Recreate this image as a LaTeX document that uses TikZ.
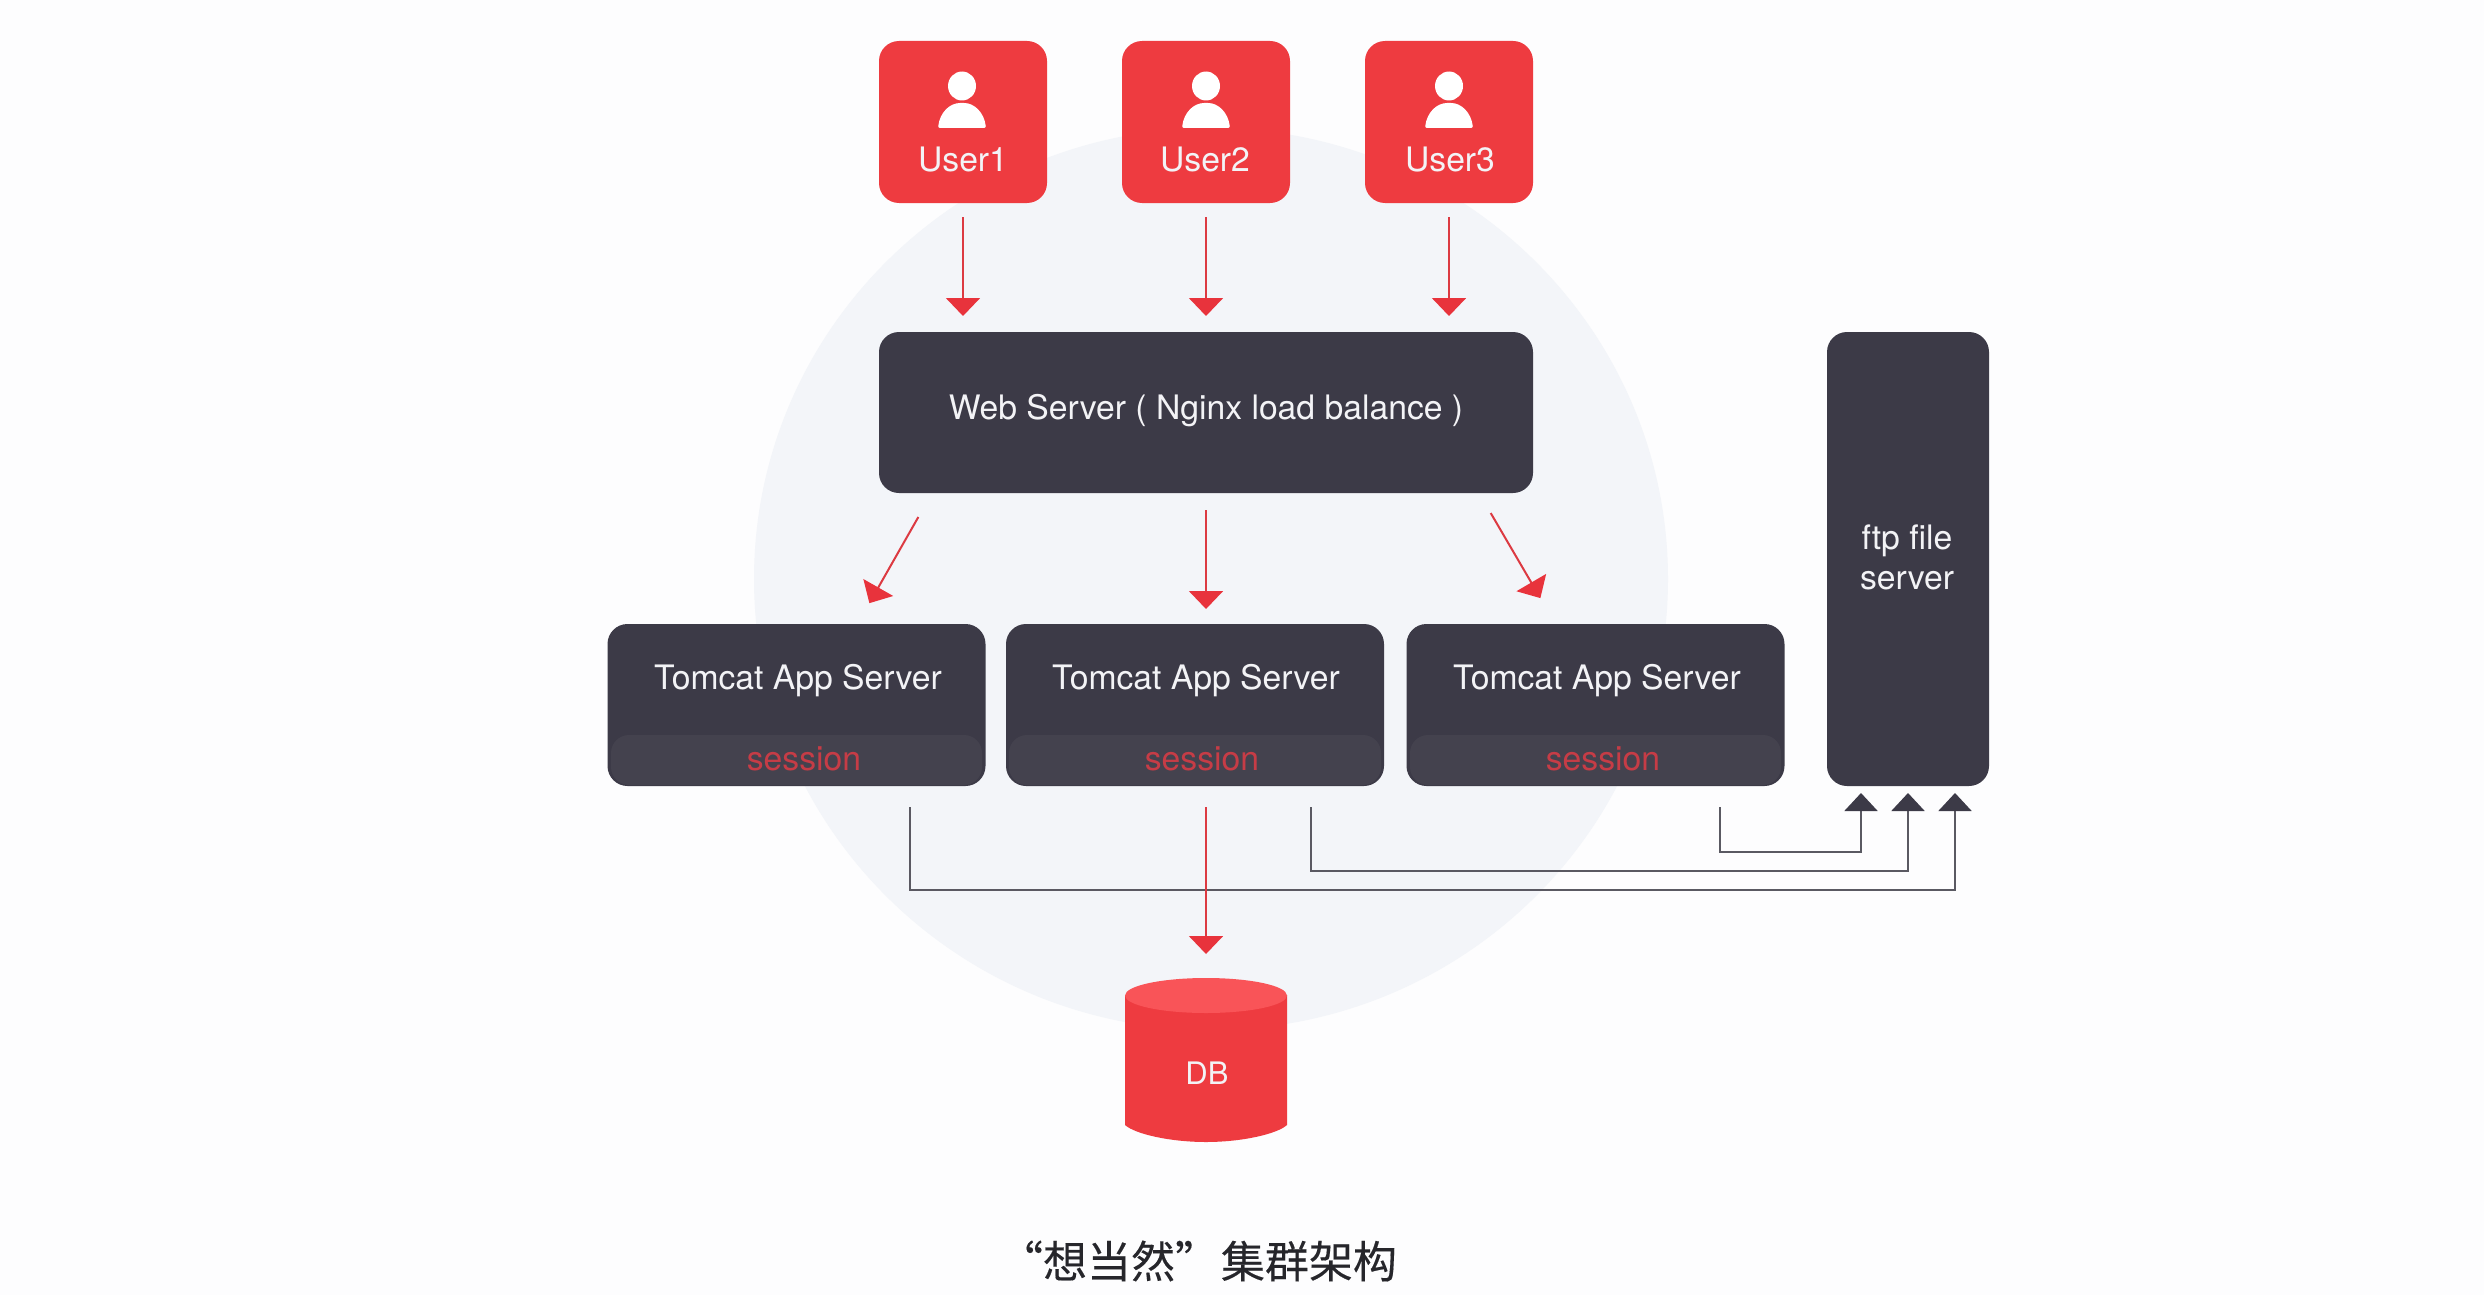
\documentclass[tikz,border=0pt]{standalone}
\usepackage{fontspec}
\setmainfont{TeX Gyre Heros}
\newfontfamily\cjkfont[FakeBold=0.25]{Noto Sans CJK SC}
\usetikzlibrary{arrows.meta,calc}
\definecolor{pagebg}{HTML}{FDFDFE}
\definecolor{halo}{HTML}{F3F5F9}
\definecolor{redbox}{HTML}{EE3B40}
\definecolor{redtop}{HTML}{F95458}
\definecolor{redline}{HTML}{DC3A42}
\definecolor{redtip}{HTML}{E8333C}
\definecolor{darkbox}{HTML}{3C3A47}
\definecolor{darkband}{HTML}{44424E}
\definecolor{greyline}{HTML}{5A5962}
\definecolor{sessred}{HTML}{C63C46}
\definecolor{lighttext}{HTML}{F3F3F6}
\definecolor{captext}{HTML}{26262B}
\tikzset{
  anybox/.style={rectangle,rounded corners=10pt,inner sep=0pt,outer sep=0pt},
  userbox/.style={anybox,fill=redbox,minimum width=84pt,minimum height=81pt},
  webbox/.style={anybox,fill=darkbox,minimum width=327pt,minimum height=80.5pt},
  appbox/.style={anybox,fill=darkbox,minimum width=189pt,minimum height=81pt},
  ftpbox/.style={anybox,fill=darkbox,minimum width=81pt,minimum height=227pt},
  label/.style={inner sep=0pt,outer sep=0pt,text=lighttext,font=\fontsize{16.85}{20}\selectfont,align=center},
  sesslabel/.style={label,text=sessred},
  redflow/.style={draw=redline,line width=1pt,-{Triangle[length=9pt,width=17pt,fill=redtip,color=redtip]}},
  greyflow/.style={draw=greyline,line width=1pt,-{Triangle[length=9pt,width=16.5pt,fill=darkbox,color=darkbox]}},
  dbshape/.style={rectangle,inner sep=0pt,outer sep=0pt,minimum width=81pt,minimum height=82pt},
}
\newcommand{\personicon}[1]{%
  \fill[white] (#1,86) ellipse [x radius=14,y radius=14.5];
  \fill[white,rounded corners=1pt] (#1-24,128) .. controls (#1-22,112) and (#1-12,103) .. (#1,103) .. controls (#1+12,103) and (#1+22,112) .. (#1+24,128) -- cycle;
}
\begin{document}
\begin{tikzpicture}[x=0.5pt,y=-0.5pt]
\useasboundingbox (0,0) rectangle (2484,1295);
\fill[pagebg] (0,0) rectangle (2484,1295);
\fill[halo] (1211,579) ellipse [x radius=457,y radius=451];

% users
\node[userbox] (u1) at (963,122) {};
\node[userbox] (u2) at (1206,122) {};
\node[userbox] (u3) at (1449,122) {};
\personicon{962}\personicon{1206}\personicon{1449}
\node[label] (u1t) at (963,159.5) {User1};
\node[label] (u2t) at (1205,159.5) {User2};
\node[label] (u3t) at (1450,159.5) {User3};

% web
\node[webbox] (web) at (1206,412.5) {};
\node[label] (webt) at (1206,411) {Web Server ( Nginx load balance )};

% tomcat
\node[appbox] (t1) at (796.5,705) {};
\node[appbox] (t2) at (1195,705) {};
\node[appbox] (t3) at (1595.5,705) {};
\fill[darkband,rounded corners=9pt] (611,735) rectangle (982,785);
\fill[darkband,rounded corners=9pt] (1009,735) rectangle (1381,785);
\fill[darkband,rounded corners=9pt] (1410,735) rectangle (1781,785);
\node[label] (t1t) at (798,681) {Tomcat App Server};
\node[label] (t2t) at (1196,681) {Tomcat App Server};
\node[label] (t3t) at (1597,681) {Tomcat App Server};
\node[sesslabel] (s1) at (804,758.5) {session};
\node[sesslabel] (s2) at (1202,758.5) {session};
\node[sesslabel] (s3) at (1603,758.5) {session};

% ftp
\node[ftpbox] (ftp) at (1908,559) {};
\node[label] (ftpt) at (1907,557.5) {ftp file\\server};

% db
\node[dbshape] (db) at (1206,1060) {};
\fill[redbox] (1125,995) -- (1125,1125) .. controls (1135,1134) and (1170,1142) .. (1206,1142) .. controls (1242,1142) and (1277,1134) .. (1287,1125) -- (1287,995) -- cycle;
\fill[redtop] (1206,995.5) ellipse [x radius=81,y radius=17.5];
\node[label,font=\fontsize{15.5}{19}\selectfont] (dbt) at (1207,1073) {DB};

% caption
\node[inner sep=0pt,outer sep=0pt,text=captext,font=\cjkfont\fontsize{22}{26}\selectfont] (cap) at (1198,1261) {“想当然”\hspace{-4pt} 集群架构};

% users to web
\foreach \a in {u1,u2,u3}
  \draw[redflow,shorten <=7pt,shorten >=8pt] (\a.south) -- (\a.south |- web.north);

% web to tomcat
\draw[redflow,shorten <=13.8pt,shorten >=12pt] ($(web.south west)+(53,0)$) -- ($(t1.north west)+(250,0)$);
\draw[redflow,shorten <=8.5pt,shorten >=7.5pt] (web.south) -- (web.south |- t2.north);
\draw[redflow,shorten <=11.6pt,shorten >=15pt] ($(web.south west)+(600,0)$) -- ($(t3.north west)+(149,0)$);

% tomcat to ftp
\draw[greyflow,shorten <=10.5pt,shorten >=3.5pt] ($(t1.south west)+(302,0)$) -- ++(0,104) -| ($(ftp.south)+(47,0)$);
\draw[greyflow,shorten <=10.5pt,shorten >=3.5pt] ($(t2.south west)+(305,0)$) -- ++(0,85) -| (ftp.south);
\draw[greyflow,shorten <=10.5pt,shorten >=3.5pt] ($(t3.south west)+(313,0)$) -- ++(0,66) -| ($(ftp.south)+(-47,0)$);

% tomcat to db
\draw[redflow,shorten <=10.5pt,shorten >=12pt] (t2.south -| db.north) -- (db.north);
\end{tikzpicture}
\end{document}
